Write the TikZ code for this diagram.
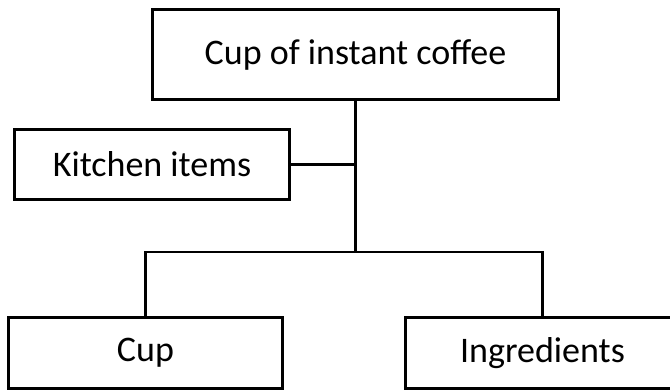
\documentclass[tikz,border=0pt]{standalone}
\usepackage{fontspec}
\setmainfont{Carlito}
\usetikzlibrary{positioning}

\begin{document}
\begin{tikzpicture}[x=0.75pt, y=-0.75pt,
        itembox/.style={draw, line width=2.1pt, minimum width=206pt,
                      minimum height=53pt, inner sep=0pt,
                      font=\fontsize{27}{31}\selectfont},
        link/.style={line width=2.1pt},
      ]
        \clip (0,0) rectangle (670,389);
        \node[itembox, minimum width=304pt, minimum height=67pt] (coffee) at (355.5,54.5) {Cup of instant coffee};
        \node[itembox] (kitchen) at (152,164.5) {Kitchen items};
        \node[itembox] (cup) at (145.5,353) {Cup};
        \node[itembox] (ingr) at (542.5,353) {Ingredients};

        \coordinate (split) at (coffee.south |- 0,252);

        \draw[link] (coffee) -- (split);
        \draw[link] (kitchen.east) -- (kitchen.east -| coffee.south);
        \draw[link] (cup) |- (split) -| (ingr);
      \end{tikzpicture}
\end{document}
